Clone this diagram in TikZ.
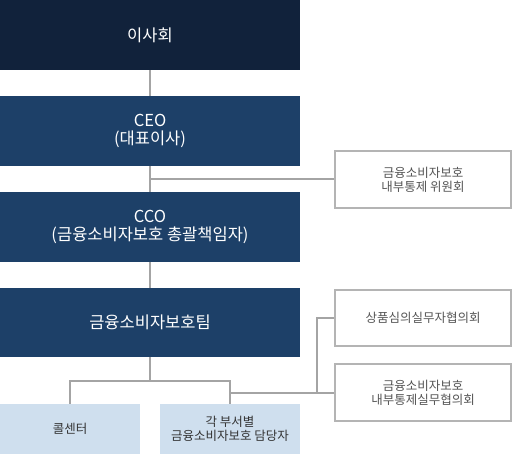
\documentclass[tikz,border=0pt]{standalone}
\usepackage{fontspec}
\setmainfont{Noto Sans CJK KR}
\usepackage{tikz}
\usetikzlibrary{calc,positioning,backgrounds}
\definecolor{boardnavy}{HTML}{11223B}
\definecolor{deptnavy}{HTML}{1D4068}
\definecolor{paleblue}{HTML}{CFDFEE}
\definecolor{linegray}{HTML}{A4A4A4}
\definecolor{framegray}{HTML}{B4B4B4}
\definecolor{textgray}{HTML}{555555}
\newcommand{\linew}{2pt}

\begin{document}
\begin{tikzpicture}[x=1pt,y=-1pt,
  navybox/.style={fill=deptnavy,text=white,minimum width=300pt,minimum height=70pt,
    inner sep=0pt,outer sep=0pt,align=center,font=\fontsize{16.5}{18}\selectfont},
  boardbox/.style={navybox,fill=boardnavy},
  unitbox/.style={fill=paleblue,text=black!80,minimum width=140pt,minimum height=50pt,
    inner sep=0pt,outer sep=0pt,align=center,font=\fontsize{12.5}{14}\selectfont},
  cmtbox/.style={draw=framegray,line width=\linew,fill=white,text=textgray,
    minimum width=176pt,minimum height=57pt,inner sep=0pt,outer sep=0pt,
    align=center,font=\fontsize{12.5}{14}\selectfont},
  link/.style={draw=linegray,line width=\linew}]
\useasboundingbox (0,0) rectangle (513,454);
% main chain
\node[boardbox] (board) at (150,35) {이사회};
\node[navybox] (ceo) at (150,131) {CEO\\(대표이사)};
\node[navybox] (cco) at (150,227) {CCO\\(금융소비자보호 총괄책임자)};
\node[navybox,minimum height=69pt] (team) at (150,322.5) {금융소비자보호팀};
% units
\node[unitbox] (call) at (70,429) {콜센터};
\node[unitbox] (dept) at (230,429) {각 부서별\\금융소비자보호 담당자};
% committees
\node[cmtbox] (ctrl) at (423,179.5) {금융소비자보호\\내부통제 위원회};
\node[cmtbox,minimum height=56pt] (prod) at (423,318) {상품심의실무자협의회};
\node[cmtbox] (prac) at (423,392.5) {금융소비자보호\\내부통제실무협의회};
% connectors
\begin{scope}[on background layer]
\draw[link] (board.south) -- (ceo.north);
\draw[link] (ceo.south) -- (cco.north);
\draw[link] (ceo.south |- ctrl.west) -- (ctrl.west);
\draw[link] (cco.south) -- (team.north);
\draw[link] (team.south) -- ++(0,24) coordinate (split);
\draw[link] (call.north) |- (split) -| (dept.north);
\draw[link] (dept.north |- prac.west) -- (prac.west);
\draw[link] (prod.west) -- ++(-18,0) coordinate (bend) -- (bend |- prac.west);
\end{scope}
\end{tikzpicture}
\end{document}
